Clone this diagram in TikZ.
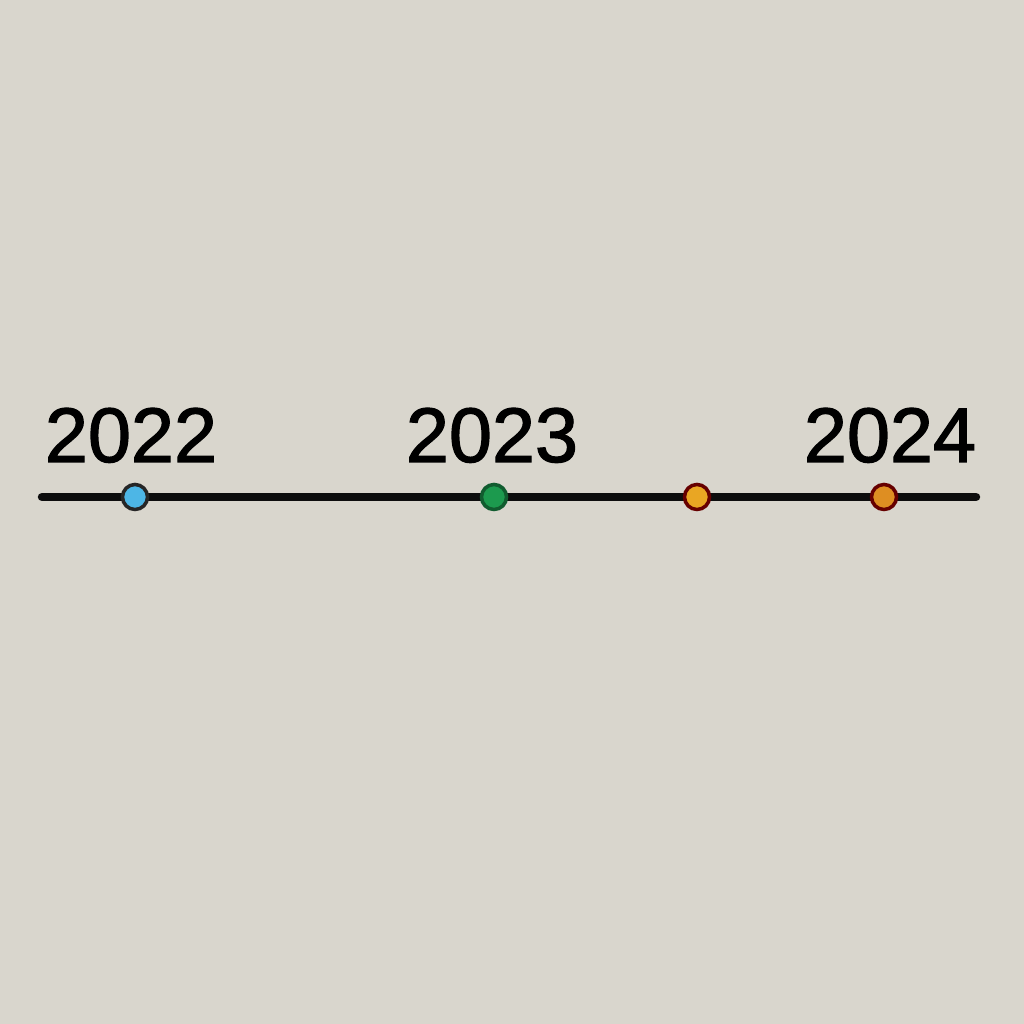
\documentclass[tikz,border=0pt]{standalone}
\usepackage{fontspec}
\setmainfont{Liberation Sans}
\newfontfamily\yearfont[FakeBold=1.6]{Liberation Sans}
\usepackage{xcolor}
\usepackage{tikz}
\usetikzlibrary{positioning}

\definecolor{wall}{HTML}{D9D6CD}
\definecolor{dotblue}{HTML}{4DB6E6}
\definecolor{dotgreen}{HTML}{1C9A4E}
\definecolor{dotyellow}{HTML}{E9A623}
\definecolor{dotorange}{HTML}{DE8E22}

\begin{document}
\begin{tikzpicture}[
    x=0.01cm, y=0.01cm,
    year/.style={font=\yearfont\fontsize{22}{22}\selectfont, text=black, anchor=base, inner sep=0pt},
    marker/.style={circle, draw=black!85, line width=1pt, minimum size=0.25cm, inner sep=0pt},
    track/.style={line width=2.4pt, line cap=round, draw=black!95}
]
% wall
\fill[wall] (0,0) rectangle (1024,1024);
\useasboundingbox (0,0) rectangle (1024,1024);

% years
\node[year] (y2022) at (131,562) {2022};
\node[year] (y2023) at (492,562) {2023};
\node[year] (y2024) at (890,562) {2024};

% line
\coordinate (start) at (42,527);
\coordinate (end) at (976,527);
\draw[track] (start) -- (end);

% markers
\node[marker, fill=dotblue] (m1) at (135,527) {};
\node[marker, fill=dotgreen, draw=dotgreen!60!black] (m2) at (494,527) {};
\node[marker, fill=dotyellow, draw=black!60!red] (m3) at (697,527) {};
\node[marker, fill=dotorange, draw=black!60!red] (m4) at (884,527) {};
\end{tikzpicture}
\end{document}
